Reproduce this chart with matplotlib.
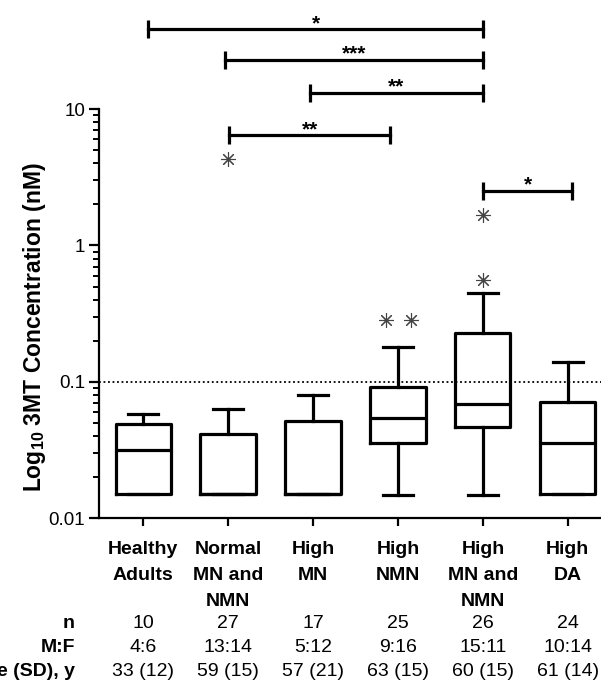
import numpy as np
import matplotlib
matplotlib.use("Agg")
import matplotlib.pyplot as plt
import matplotlib.transforms as mtransforms

plt.rcParams['font.family'] = ['Liberation Sans', 'DejaVu Sans']
plt.rcParams['mathtext.fontset'] = 'custom'
plt.rcParams['mathtext.rm'] = 'Liberation Sans:bold'
plt.rcParams['mathtext.bf'] = 'Liberation Sans:bold'

# grupos y valores del boxplot
grupos = ["Healthy\nAdults", "Normal\nMN and\nNMN", "High\nMN", "High\nNMN",
          "High\nMN and\nNMN", "High\nDA"]
q1 = [0.0150, 0.0150, 0.0150, 0.0355, 0.0468, 0.0150]
mediana = [0.0319, 0.0152, 0.0152, 0.0542, 0.0693, 0.0355]
q3 = [0.0490, 0.0413, 0.0520, 0.0924, 0.2280, 0.0716]
bigote_min = [0.0150, 0.0150, 0.0150, 0.0147, 0.0147, 0.0150]
bigote_max = [0.0585, 0.0630, 0.0800, 0.1790, 0.4480, 0.1410]

# atipicos: (grupo, valor)
atipicos_grupo = [1, 3, 3, 4, 4]
atipicos_valor = [4.3, 0.285, 0.285, 0.56, 1.66]

# comparaciones significativas: (inicio, fin, altura, texto)
comp_ini = [0.06, 0.96, 1.96, 1.01, 4.0]
comp_fin = [4.0, 4.0, 4.0, 2.91, 5.05]
comp_alt = [38.5, 23.0, 13.2, 6.4, 2.52]
comp_txt = ["*", "***", "**", "**", "*"]

# tabla inferior
filas = ["n", "M:F", "Age (SD), y"]
tabla_n = ["10", "27", "17", "25", "26", "24"]
tabla_mf = ["4:6", "13:14", "5:12", "9:16", "15:11", "10:14"]
tabla_edad = ["33 (12)", "59 (15)", "57 (21)", "63 (15)", "60 (15)", "61 (14)"]

fig = plt.figure(figsize=(6.01, 6.82), dpi=100)
ax = fig.add_axes([0.1647, 0.2400, 0.8536, 0.6001])

pos = np.arange(len(grupos))
stats = []
for i in range(len(grupos)):
    stats.append({'med': mediana[i], 'q1': q1[i], 'q3': q3[i],
                  'whislo': bigote_min[i], 'whishi': bigote_max[i], 'fliers': []})

lw = 2.3
ax.bxp(stats, positions=pos, widths=0.65, capwidths=0.36, showfliers=False,
       boxprops=dict(color='black', linewidth=lw),
       medianprops=dict(color='black', linewidth=lw),
       whiskerprops=dict(color='black', linewidth=lw),
       capprops=dict(color='black', linewidth=lw))

# atipicos (desplazados cuando coinciden)
desp = [0.0, -0.14, 0.15, 0.0, 0.0]
ax.plot(np.array(atipicos_grupo) + np.array(desp), atipicos_valor, linestyle='none',
        marker=(8, 2, 0), markersize=10.5, markeredgewidth=0.8, color='#444444')

# linea de referencia 0.1
ax.axhline(0.1, color='black', linestyle=(0, (1, 1.5)), linewidth=1.3)

ax.set_yscale('log')
ax.set_ylim(0.01, 10)
ax.set_xlim(-0.52, 5.52)
ax.set_yticks([0.01, 0.1, 1, 10])
ax.set_yticklabels(["0.01", "0.1", "1", "10"], fontsize=13.5)
ax.set_xticks(pos)
ax.set_xticklabels(grupos, fontsize=14, fontweight='bold', linespacing=1.7)

for s in ['top', 'right']:
    ax.spines[s].set_visible(False)
for s in ['left', 'bottom']:
    ax.spines[s].set_linewidth(1.6)
ax.tick_params(axis='y', which='major', length=7, width=1.6, pad=3)
ax.tick_params(axis='y', which='minor', length=4, width=1.4)
ax.tick_params(axis='x', length=6, width=1.6, pad=10)

ax.set_ylabel("Log$_{10}$ 3MT Concentration (nM)", fontsize=16.5,
              fontweight='bold')
ax.yaxis.set_label_coords(-0.10, 0.467)

# comparaciones
for x1, x2, y, t in zip(comp_ini, comp_fin, comp_alt, comp_txt):
    ax.plot([x1, x2], [y, y], color='black', linewidth=2.3, marker='|',
            markersize=13, markeredgewidth=2.3, clip_on=False)
    ax.annotate(t, xy=((x1 + x2) / 2, y), xytext=(0, 0), textcoords='offset points',
                ha='center', va='baseline', fontsize=15, fontweight='bold',
                annotation_clip=False)

# tabla
trans = mtransforms.blended_transform_factory(ax.transData, fig.transFigure)
ys = [1 - 624 / 682, 1 - 648 / 682, 1 - 672 / 682]
for fila, valores, yy in zip(filas, [tabla_n, tabla_mf, tabla_edad], ys):
    fig.text(75 / 601, yy, fila, ha='right', va='center', fontsize=14, fontweight='bold')
    for i, v in enumerate(valores):
        ax.text(pos[i], yy, v, transform=trans, ha='center', va='center', fontsize=14,
                clip_on=False)

fig.savefig("out.png", dpi=100)
